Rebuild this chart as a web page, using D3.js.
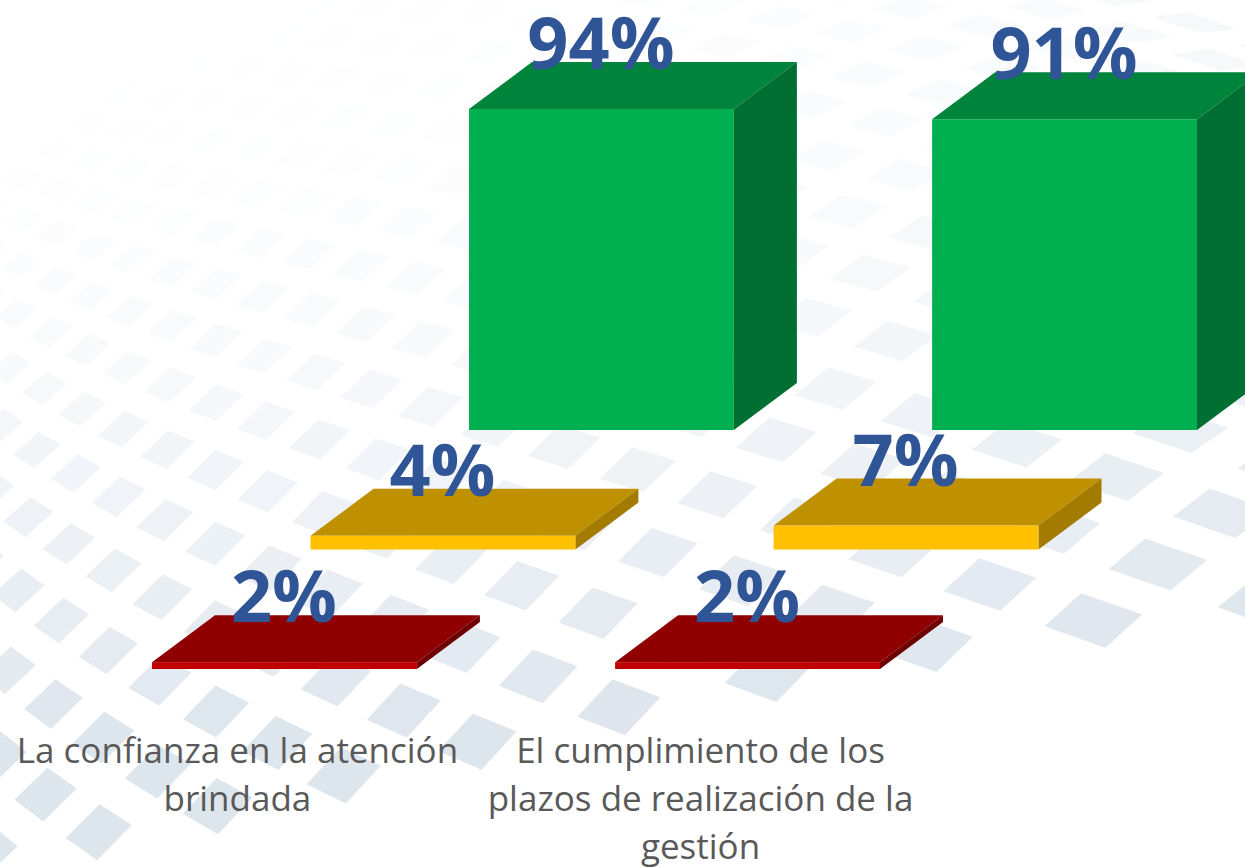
<!DOCTYPE html>
<html>
<head>
<meta charset="utf-8">
<script src="https://cdn.jsdelivr.net/npm/d3@7"></script>
<style>
  html, body { margin: 0; padding: 0; background: #fff; overflow: hidden; }
</style>
</head>
<body>
<div id="svg-container"></div>
<script>
// data
var categories = ["La confianza en la atención", "El cumplimiento de los plazos de realización de la gestión"];
var categoryLines = [
  ["La confianza en la atención", "brindada"],
  ["El cumplimiento de los", "plazos de realización de la", "gestión"]
];
var seriesNames = ["rojo", "amarillo", "verde"];   // front to back
var rojo     = [2, 2];
var amarillo = [4, 7];
var verde    = [94, 91];
var seriesValues = { rojo: rojo, amarillo: amarillo, verde: verde };

var faceColors = {
  rojo:     { front: "#c00000", top: "#900000", side: "#6e0000" },
  amarillo: { front: "#ffc000", top: "#bf9000", side: "#a37b00" },
  verde:    { front: "#00b050", top: "#00843c", side: "#006f31" }
};

// establish variables
var svgWidth  = 1245;
var svgHeight = 868;
var depthX = 63;   // oblique depth of each box
var depthY = 47;

var svg = d3.select("#svg-container")
  .append("svg")
  .attr("width", svgWidth)
  .attr("height", svgHeight)
  .attr("viewBox", "0 0 1245 868")
  .style("display", "block");

svg.append("rect").attr("width", "100%").attr("height", "100%").style("fill", "#fff");

// ---- background floor of tiles
// lattice position [i, j] of tiles with where they sit in the picture
var floorPoints = [
  [1,0,1095,619],[1,1,1159,565],[1,2,1220,516],[2,0,988,580],[2,2,1120,479],[3,2,1015,448],
  [5,2,835,387],[5,3,892,344],[6,4,867,277],[7,5,843,215],[8,6,830,160],[9,7,813,108],[7,6,905,178],
  [8,7,887,125],[9,8,868,73],[10,9,847,27],[8,8,945,88],[9,9,932,38],[6,5,917,238],[7,4,803,253],
  [3,-1,838,600],[3,-2,762,675],[4,-3,618,705],[5,-3,537,678],[6,-3,467,652],[6,-4,402,713],[7,-4,333,688],
  [5,-4,478,745],[6,-5,342,788],[7,-5,280,747],[8,-5,213,713],[8,-6,157,770],[7,-6,212,810],[8,-7,102,823],
  [9,-7,48,785],[9,-6,105,732],[9,-5,158,683],[10,-5,108,650],[10,-6,55,700],[11,-6,8,667],
  [11,-5,62,620],[12,-5,18,590],[12,-4,68,547],[11,-4,113,572],[10,-4,160,597],[10,-3,210,550],[9,-3,267,570],
  [10,-2,267,490],[9,-2,323,508],[9,-1,377,455],[10,-1,320,440],[8,-4,268,660],
  [7,-2,450,567],[6,-2,520,587],[5,-2,598,613],[7,-3,400,610],[8,-3,330,590],
  [5,-1,658,552],[4,-1,743,577],[5,0,720,492],[6,0,640,465],[5,1,777,442],[4,0,797,513],[4,1,860,463],[7,0,567,447],
  [10,0,370,383],[11,0,315,368],[12,0,265,353],[13,0,218,338],[14,0,173,325],[15,0,132,310],[16,0,90,297],[17,0,52,282],
  [10,1,423,333],
  [13,-4,30,520],[13,-3,75,475],[13,-2,125,430],[13,-1,170,383],[13,1,263,295],
  [14,-3,37,453],[14,-2,82,412],[14,-1,128,368],[14,1,218,283],[14,2,262,242],
  [15,-2,43,392],[15,-1,87,352],[15,1,173,270],[15,2,217,232],[16,-1,50,335],[16,1,133,257],[17,1,90,243],
  [12,-3,118,498],[12,-2,168,450],[12,-1,217,402],[11,-3,163,520],[11,-2,215,470],[11,-1,265,418],
  [13,2,310,252],[12,2,360,262],[11,2,418,273],[14,3,307,202],[13,3,355,210],[12,3,407,220],[15,3,258,192],[16,3,213,183],
  [15,4,303,155],[14,4,350,163],[13,4,400,172],[16,4,255,147],[17,4,213,138],
  [16,5,298,113],[15,5,343,122],[14,5,392,128],[17,5,250,105],[18,5,207,97],
  [16,6,337,82],[15,6,385,88],[14,6,437,95],[17,6,292,73],[18,6,247,67]
];

// least squares cubic through those points, tiles are then laid out from it
function floorTerms(i, j) {
  var a = i / 10, b = j / 10;
  return [1, a, b, a * a, a * b, b * b, a * a * a, a * a * b, a * b * b, b * b * b];
}
function solve(rows, values) {
  var n = rows[0].length;
  var A = d3.range(n).map(function(r) {
    return d3.range(n + 1).map(function(c) {
      return d3.sum(rows, function(row, k) { return row[r] * (c === n ? values[k] : row[c]); });
    });
  });
  for (var k = 0; k < n; k++) {
    var best = k;
    for (var r = k + 1; r < n; r++) if (Math.abs(A[r][k]) > Math.abs(A[best][k])) best = r;
    var t = A[k]; A[k] = A[best]; A[best] = t;
    for (var r2 = 0; r2 < n; r2++) {
      if (r2 === k) continue;
      var f = A[r2][k] / A[k][k];
      for (var c2 = k; c2 <= n; c2++) A[r2][c2] -= f * A[k][c2];
    }
  }
  return d3.range(n).map(function(i) { return A[i][n] / A[i][i]; });
}
var floorRows = floorPoints.map(function(p) { return floorTerms(p[0], p[1]); });
var fx = solve(floorRows, floorPoints.map(function(p) { return p[2]; }));
var fy = solve(floorRows, floorPoints.map(function(p) { return p[3]; }));
function floorXY(i, j) {
  var terms = floorTerms(i, j);
  return [d3.sum(terms, function(t, k) { return t * fx[k]; }), d3.sum(terms, function(t, k) { return t * fy[k]; })];
}

var tiles = [];
d3.range(-3, 21).forEach(function(i) {
  d3.range(-10, 13).forEach(function(j) {
    if (i + j < 1) return;   // floor stops at this diagonal
    var c = floorXY(i, j);
    if (c[0] < -60 || c[0] > svgWidth + 60 || c[1] < -30 || c[1] > svgHeight + 30) return;
    tiles.push({ i: i, j: j, c: c });
  });
});

var tileSize = 0.285;  // half of a tile, in lattice units
var tileColor = d3.scaleLinear().domain([0, 1]).range(["#ffffff", "#dde5ed"]).clamp(true);

svg.append("g").selectAll("polygon")
  .data(tiles)
  .enter()
    .append("polygon")
    .attr("points", function(d) {
      return [[-1,-1],[-1,1],[1,1],[1,-1]].map(function(s) {
        return floorXY(d.i + s[0] * tileSize, d.j + s[1] * tileSize).join(",");
      }).join(" ");
    })
    .style("fill", function(d) {
      var a = Math.pow(d.c[1] / 740, 2) + 0.28 * Math.pow(d.c[0] / svgWidth, 2);
      return tileColor(a);
    });

// ---- scales
var xScale = d3.scaleBand()
  .domain(categories)
  .range([152, 880])
  .paddingInner(0.428)
  .paddingOuter(0);

// series step back on the floor
var seriesX = d3.scalePoint().domain(seriesNames).range([0, 317]);
var baseY   = d3.scalePoint().domain(seriesNames).range([669, 430]);

// height of a box
var hScale = d3.scaleLinear().domain([0, 100]).range([0, 341.5]);

var bars = [];
seriesNames.slice().reverse().forEach(function(name) {
  seriesValues[name].forEach(function(v, k) {
    var x0 = xScale(categories[k]) + seriesX(name);
    var y1 = baseY(name);
    bars.push({ name: name, value: v, x0: x0, x1: x0 + xScale.bandwidth(), y0: y1 - hScale(v), y1: y1 });
  });
});

function pts(list) { return list.map(function(p) { return p.join(","); }).join(" "); }

var barGroup = svg.append("g").selectAll("g")
  .data(bars)
  .enter()
    .append("g");

barGroup.append("polygon")
  .attr("points", function(d) {
    return pts([[d.x0, d.y0], [d.x0 + depthX, d.y0 - depthY], [d.x1 + depthX, d.y0 - depthY], [d.x1, d.y0]]);
  })
  .style("fill", function(d) { return faceColors[d.name].top; });

barGroup.append("polygon")
  .attr("points", function(d) {
    return pts([[d.x1, d.y0], [d.x1 + depthX, d.y0 - depthY], [d.x1 + depthX, d.y1 - depthY], [d.x1, d.y1]]);
  })
  .style("fill", function(d) { return faceColors[d.name].side; });

barGroup.append("rect")
  .attr("x", function(d) { return d.x0; })
  .attr("y", function(d) { return d.y0; })
  .attr("width", xScale.bandwidth())
  .attr("height", function(d) { return d.y1 - d.y0; })
  .style("fill", function(d) { return faceColors[d.name].front; });

// value labels
svg.append("g").selectAll("text")
  .data(bars)
  .enter()
    .append("text")
    .text(function(d) { return d.value + "%"; })
    .attr("x", function(d) { return (d.x0 + d.x1) / 2 - 0.5; })
    .attr("y", function(d) { return d.y0 - depthY + 7; })
    .attr("text-anchor", "middle")
    .attr("font-family", "'Open Sans', sans-serif")
    .attr("font-weight", 700)
    .attr("font-size", "72px")
    .attr("fill", "#2f5597");

// category labels
var catGroup = svg.append("g").selectAll("text")
  .data(categories)
  .enter()
    .append("text")
    .attr("text-anchor", "middle")
    .attr("font-family", "'Open Sans', sans-serif")
    .attr("font-size", "35px")
    .attr("fill", "#595959");

catGroup.selectAll("tspan")
  .data(function(d, k) { return categoryLines[k].map(function(t) { return { text: t, cat: d }; }); })
  .enter()
    .append("tspan")
    .attr("x", function(d) { return xScale(d.cat) + xScale.bandwidth() / 2 - 47; })
    .attr("y", function(d, n) { return 763 + n * 48; })
    .text(function(d) { return d.text; });
</script>
</body>
</html>
